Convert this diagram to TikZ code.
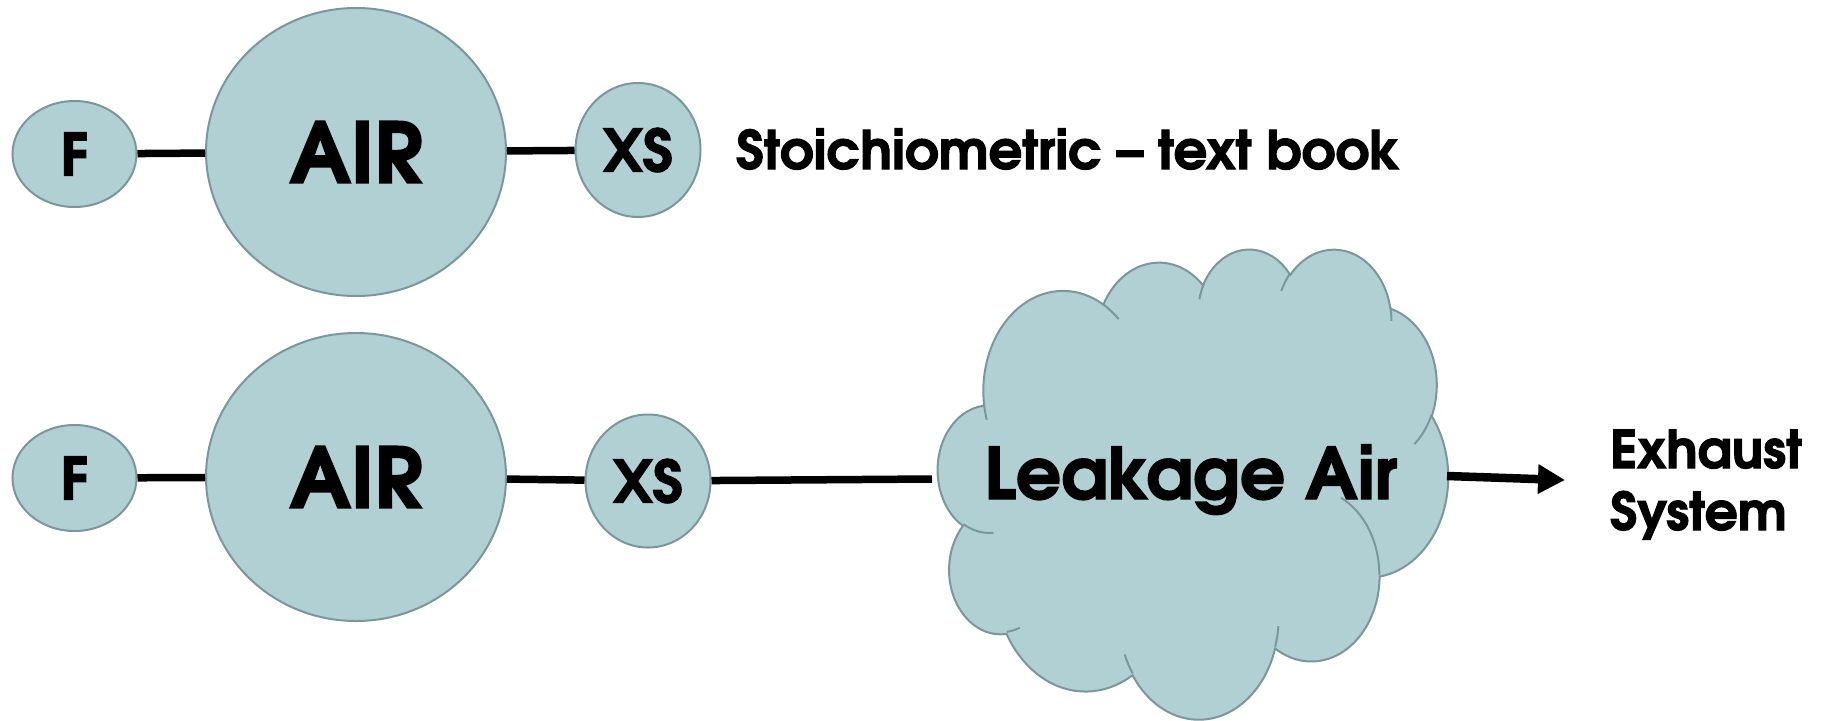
\documentclass[tikz,border=0pt]{standalone}
\usepackage{fontspec}
\setmainfont{texgyreadventor-bold.otf}[FakeBold=2]
\usetikzlibrary{shapes.geometric,arrows.meta}
\definecolor{bubfill}{RGB}{177,208,212}
\definecolor{bord}{RGB}{124,151,155}
\newcommand\cldarc[4]{%
  \pgfmathsetmacro\cldA{atan2((#1)*sin(#3),(#2)*cos(#3))}%
  \pgfmathsetmacro\cldB{atan2((#1)*sin((#3)+(#4)),(#2)*cos((#3)+(#4)))}%
  \pgfmathsetmacro\cldB{\cldB<\cldA ? \cldB+360 : \cldB}%
  \pgfpatharc{\cldA}{\cldB}{#1pt and #2pt}}
\newcommand\cldstub[6]{%
  \pgfpathmoveto{\pgfpoint{#1pt}{#2pt}}\cldarc{#3}{#4}{#5}{#6}}
\begin{document}
\begin{tikzpicture}[x=1pt,y=-1pt,
  bub/.style={ellipse, draw=bord, fill=bubfill, line width=2pt, inner sep=0pt},
  small/.style={font=\fontsize{58}{64}\selectfont},
  big/.style={font=\fontsize{83}{90}\selectfont},
  conn/.style={line width=7.5pt, black},
  lbl/.style={inner sep=0pt}]
\useasboundingbox (0,0) rectangle (1827,720);
\fill[white] (0,0) rectangle (1827,720);

% cloud (Office cloud outline)
\node[minimum width=510pt, minimum height=470pt, inner sep=0pt] (cloud) at (1193,483) {};
\begin{pgfscope}
  \pgftransformshift{\pgfpoint{938pt}{-248pt}}
  \pgftransformxscale{0.118056}
  \pgftransformyscale{-0.108796}
  \pgfsetfillcolor{bubfill}
  \pgfsetstrokecolor{bord}
  \pgfsetlinewidth{2pt}
  \pgfpathmoveto{\pgfpoint{390pt}{1437pt}}
  \cldarc{675.3}{919.0}{-190.4875}{123.7805}
  \cldarc{533.3}{726.7}{-144.1024}{89.9452}
  \cldarc{436.5}{594.5}{-145.8079}{99.7230}
  \cldarc{485.7}{659.5}{-130.9861}{117.2417}
  \cldarc{533.3}{727.3}{-78.7089}{109.0269}
  \cldarc{677.5}{922.0}{-46.2673}{130.2690}
  \cldarc{578.5}{786.7}{0.6250}{114.0333}
  \cldarc{675.2}{921.5}{22.4516}{115.1726}
  \cldarc{772.0}{1054.3}{66.2426}{75.7110}
  \cldarc{436.0}{591.8}{-274.9421}{146.7356}
  \cldarc{434.5}{594.5}{-246.8285}{152.5189}
  \pgfpathclose
  \pgfusepath{fill,stroke}
  \cldstub{469.3}{2617.7}{434.5}{594.5}{86.7420}{26.4295}
  \cldstub{692.8}{3489.9}{436.0}{591.8}{73.6105}{11.4475}
  \cldstub{1647.8}{3909.0}{675.2}{921.5}{137.6242}{14.0811}
  \cldstub{2882.7}{3475.1}{675.2}{921.5}{6.4533}{15.9984}
  \cldstub{3412.9}{2295.4}{578.5}{786.7}{-70.2924}{70.9174}
  \cldstub{4179.8}{1535.4}{533.3}{727.3}{30.3180}{27.7515}
  \cldstub{3832.4}{542.6}{485.7}{659.5}{-13.7443}{14.8589}
  \cldstub{2907.8}{395.2}{485.7}{659.5}{-149.1815}{18.1954}
  \cldstub{2214.1}{472.0}{436.5}{594.5}{-163.4943}{17.6864}
  \cldstub{1400.0}{519.2}{675.3}{919.0}{-66.7070}{12.3194}
  \cldstub{412.7}{1578.9}{675.3}{919.0}{157.6544}{11.8582}
  \pgfusepath{stroke}
\end{pgfscope}
\node[lbl, anchor=base, font=\fontsize{71}{80}\selectfont] (leak) at (1191,499) {Leakage Air};

% top row
\node[bub, small, minimum width=124pt, minimum height=106pt] (F1) at (74.5,154) {F};
\node[bub, big, minimum width=300pt, minimum height=288pt] (AIR1) at (356,152) {AIR};
\node[bub, small, minimum width=125pt, minimum height=134pt] (XS1) at (638,150) {XS};
\draw[conn] (F1) -- (AIR1);
\draw[conn] (AIR1) -- (XS1);
\node[lbl, anchor=base west, font=\fontsize{53}{60}\selectfont] (stoi) at (736,169) {Stoichiometric – text book};

% bottom row
\node[bub, small, minimum width=124pt, minimum height=106pt] (F2) at (74.5,478) {F};
\node[bub, big, minimum width=300pt, minimum height=288pt] (AIR2) at (356,477) {AIR};
\node[bub, small, minimum width=125pt, minimum height=133pt] (XS2) at (648,481) {XS};
\draw[conn] (F2) -- (AIR2);
\draw[conn] (AIR2) -- (XS2);
\coordinate (cin) at (932,479);
\draw[conn] (XS2) -- (cin);

% exhaust
\coordinate (cout) at (1447,476);
\coordinate (tip) at (1565,480);
\draw[line width=8.5pt, -{Triangle[length=27pt,width=28pt]}] (cout) -- (tip);
\node[lbl, anchor=base west, align=left, font=\fontsize{52}{62}\selectfont] (exh) at (1610,530) {Exhaust\\System};
\end{tikzpicture}
\end{document}
